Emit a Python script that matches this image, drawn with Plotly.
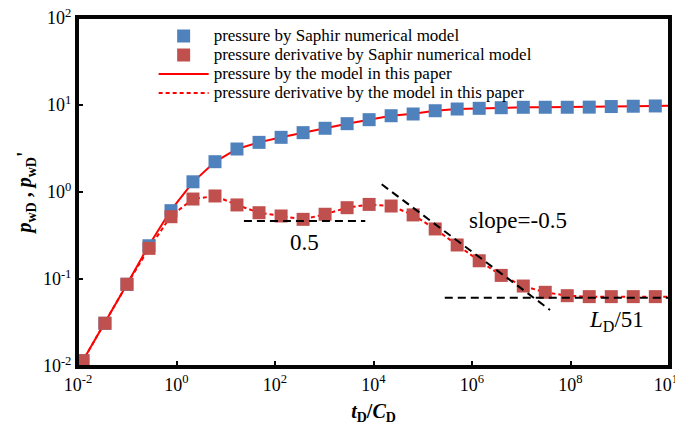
import plotly.graph_objects as go

# ---- data ----
t_points = [0.0126, 0.0352, 0.0986, 0.276, 0.773, 2.16, 6.05, 16.9, 47.4, 133, 372,
            1040, 2910, 8150, 22800, 63800, 179000, 500000, 1.40e6, 3.92e6, 1.10e7,
            3.07e7, 8.59e7, 2.40e8, 6.73e8, 1.88e9, 5.27e9]
p_saphir = [0.0115, 0.031, 0.087, 0.241, 0.61, 1.31, 2.23, 3.12, 3.72, 4.25, 4.81,
            5.40, 6.10, 6.78, 7.53, 7.88, 8.59, 8.99, 9.16, 9.31, 9.41, 9.42,
            9.42, 9.45, 9.6, 9.68, 9.75]
dp_saphir = [0.0115, 0.031, 0.087, 0.225, 0.52, 0.83, 0.90, 0.71, 0.578, 0.53, 0.485,
             0.555, 0.66, 0.72, 0.69, 0.545, 0.376, 0.246, 0.162, 0.110, 0.083,
             0.0703, 0.0643, 0.0627, 0.0627, 0.0627, 0.0627]

t_model = [0.01, 0.0126, 0.0352, 0.0986, 0.276, 0.773, 2.16, 6.05, 16.9, 47.4, 133, 372,
           1040, 2910, 8150, 22800, 63800, 179000, 500000, 1.40e6, 3.92e6, 1.10e7,
           3.07e7, 8.59e7, 2.40e8, 6.73e8, 1.88e9, 5.27e9, 1.2e10]
p_model = [0.0092, 0.0115, 0.031, 0.087, 0.245, 0.62, 1.30, 2.22, 3.12, 3.72, 4.25, 4.81,
           5.40, 6.10, 6.78, 7.53, 7.95, 8.59, 8.99, 9.16, 9.31, 9.41, 9.42,
           9.42, 9.45, 9.6, 9.68, 9.75, 9.8]
dp_model = [0.0092, 0.0115, 0.031, 0.087, 0.225, 0.53, 0.83, 0.90, 0.71, 0.578, 0.53, 0.485,
            0.555, 0.66, 0.72, 0.69, 0.545, 0.376, 0.246, 0.162, 0.110, 0.083,
            0.0703, 0.0643, 0.0627, 0.0627, 0.0627, 0.0627, 0.0627]

ref_flat_t = [23.4, 6800]
ref_flat_v = [0.465, 0.465]
ref_slope_t = [14660, 3.84e7]
ref_slope_v = [1.226, 0.0441]
ref_late_t = [2.8e5, 1.3e10]
ref_late_v = [0.061, 0.061]

x_limits = [0.01, 1e10]
y_limits = [0.01, 100]

x_tickvals = [1e-2, 1e0, 1e2, 1e4, 1e6, 1e8, 1e10]
x_ticktext = ["10<sup>-2</sup>", "10<sup>0</sup>", "10<sup>2</sup>", "10<sup>4</sup>",
              "10<sup>6</sup>", "10<sup>8</sup>", "10<sup>10</sup>"]
y_tickvals = [1e-2, 1e-1, 1e0, 1e1, 1e2]
y_ticktext = ["10<sup>-2</sup>", "10<sup>-1</sup>", "10<sup>0</sup>", "10<sup>1</sup>",
              "10<sup>2</sup>"]

series_names = ["pressure by Saphir numerical model",
                "pressure derivative by Saphir numerical model",
                "pressure by the model in this paper",
                "pressure derivative by the model in this paper"]

BLUE = "#4F81BD"
RED = "#C0504D"
LINE_RED = "#FF0000"
FRAME = "#050505"
FONT = "Liberation Serif"


def leg(name):
    return '<span style="font-size:17px">' + name + "</span>"


fig = go.Figure()

fig.add_trace(go.Scatter(x=t_model, y=p_model, mode="lines",
                         line=dict(color=LINE_RED, width=2),
                         name=leg(series_names[2]), legendrank=3))
fig.add_trace(go.Scatter(x=t_model, y=dp_model, mode="lines",
                         line=dict(color=LINE_RED, width=2, dash="4px,3px"),
                         name=leg(series_names[3]), legendrank=4))
fig.add_trace(go.Scatter(x=t_points, y=p_saphir, mode="markers",
                         marker=dict(symbol="square", size=13, color=BLUE, line=dict(width=0)),
                         name=leg(series_names[0]), legendrank=1, cliponaxis=False))
fig.add_trace(go.Scatter(x=t_points, y=dp_saphir, mode="markers",
                         marker=dict(symbol="square", size=13, color=RED, line=dict(width=0)),
                         name=leg(series_names[1]), legendrank=2, cliponaxis=False))

for tx, vy in [(ref_flat_t, ref_flat_v), (ref_slope_t, ref_slope_v), (ref_late_t, ref_late_v)]:
    fig.add_trace(go.Scatter(x=tx, y=vy, mode="lines", showlegend=False, hoverinfo="skip",
                             line=dict(color="black", width=2, dash="8px,5px")))

# plot frame drawn on top (box around the plotting area)
fig.add_trace(go.Scatter(
    x=[x_limits[0], x_limits[1], x_limits[1], x_limits[0], x_limits[0]],
    y=[y_limits[0], y_limits[0], y_limits[1], y_limits[1], y_limits[0]],
    mode="lines", line=dict(color=FRAME, width=2), cliponaxis=False,
    showlegend=False, hoverinfo="skip"))

ann_font = dict(family=FONT, size=23, color="black")
fig.add_annotation(x=2.59, y=-0.586, xref="x", yref="y", text="0.5", showarrow=False, font=ann_font)
fig.add_annotation(x=6.944, y=-0.322, xref="x", yref="y", text="slope=-0.5", showarrow=False, font=ann_font)
fig.add_annotation(x=8.944, y=-1.479, xref="x", yref="y", text="<i>L</i><sub>D</sub>/51",
                   showarrow=False, font=ann_font)

axis_common = dict(type="log", showgrid=False, zeroline=False, showline=True, linecolor=FRAME,
                   linewidth=3, mirror=True, ticks="inside", ticklen=5, tickwidth=2,
                   tickcolor=FRAME, tickfont=dict(family=FONT, size=18, color="black"),
                   ticklabeloverflow="allow", automargin=False)

fig.update_xaxes(range=[-2, 10], tickvals=x_tickvals, ticktext=x_ticktext,
                 title=dict(text="<b><i>t</i><sub>D</sub>/<i>C</i><sub>D</sub></b>",
                            font=dict(family=FONT, size=20, color="black"), standoff=11),
                 **axis_common)
fig.update_yaxes(range=[-2, 2], tickvals=y_tickvals, ticktext=y_ticktext,
                 title=dict(text="<b><i>p</i><sub>wD</sub> , <i>p</i><sub>wD</sub>'</b>",
                            font=dict(family=FONT, size=20, color="black"), standoff=6),
                 **axis_common)

# page body has an 8px margin, so the figure is sized and offset to compensate
fig.update_layout(
    template="simple_white",
    width=675, height=422,
    margin=dict(l=70, r=14, t=10, b=64, autoexpand=False),
    font=dict(family=FONT, color="black"),
    legend=dict(x=0.128, y=0.99, xanchor="left", yanchor="top",
                bgcolor="rgba(0,0,0,0)", font=dict(family=FONT, size=12, color="black"),
                tracegroupgap=0, itemwidth=50),
)

fig.write_html("out.html")
